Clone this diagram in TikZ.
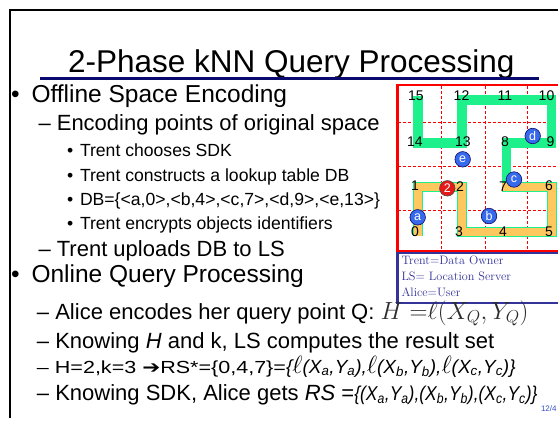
\documentclass[tikz,border=0pt]{standalone}
\usepackage{fontspec}
\newfontfamily\arial{Liberation Sans}
\newfontfamily\djv{DejaVu Sans}

\definecolor{titlenavy}{RGB}{10,10,110}
\definecolor{legendblue}{RGB}{51,51,153}
\definecolor{hilgreen}{RGB}{30,240,140}
\definecolor{hilorange}{RGB}{255,200,95}
\definecolor{objblue}{RGB}{55,105,235}
\definecolor{qred}{RGB}{230,25,25}
\definecolor{mathgray}{RGB}{45,45,45}
\definecolor{pageblue}{RGB}{50,80,200}

% X_s,Y_s written in italic sans
\newcommand\pairXY[1]{X\textsubscript{#1},Y\textsubscript{#1}}
\newcommand\ellof[1]{{\fontsize{23}{23}\selectfont$\ell$}(\pairXY{#1})}

\tikzset{
  txt/.style={anchor=base west, inner sep=0pt, outer sep=0pt},
  titletext/.style={txt, font=\arial\fontsize{31.5}{36}\selectfont},
  lvlone/.style={txt, font=\arial\fontsize{24.5}{28}\selectfont},
  lvltwo/.style={txt, font=\arial\fontsize{22}{25}\selectfont},
  lvlthree/.style={txt, font=\arial\fontsize{17.6}{20}\selectfont},
  lvlsmall/.style={txt, font=\arial\fontsize{17.5}{21}\selectfont},
  lvlsmaller/.style={txt, font=\arial\fontsize{19}{21}\selectfont},
  tuple/.style={txt, font=\arial\fontsize{20}{22}\selectfont},
  cellnum/.style={inner sep=0pt, font=\arial\fontsize{14}{14}\selectfont},
  objdot/.style={circle, draw=titlenavy, line width=0.6pt, fill=objblue,
    minimum size=15.5pt, inner sep=0pt, text=white, font=\arial\fontsize{12.5}{12.5}\selectfont},
  querydot/.style={objdot, fill=qred, draw=black!70},
  gridline/.style={red, line width=0.7pt, dash pattern=on 3pt off 2pt},
  legendtext/.style={txt, text=legendblue, font=\fontsize{12.2}{14}\selectfont},
}

\begin{document}
\begin{tikzpicture}[x=1pt,y=-1pt]
\useasboundingbox (0,0) rectangle (558,424);
\clip (0,0) rectangle (558,424);

% slide frame
\draw[line width=2pt] (10,418) -- (10,10) -- (560,10);

% title
\node[titletext] (title) at (68,72) {2-Phase kNN Query Processing};
\draw[titlenavy, line width=3pt] (40,78) -- (539,78);

% space-filling curve panel
\draw[gridline] (441,86) -- (441,250);
\draw[gridline] (485,86) -- (485,250);
\draw[gridline] (527,86) -- (527,250);
\draw[gridline] (398,122) -- (558,122);
\draw[gridline] (398,166) -- (558,166);
\draw[gridline] (398,210) -- (558,210);

\coordinate (p0) at (418,236);
\coordinate (p1) at (418,187);
\coordinate (p2) at (462,187);
\coordinate (p3) at (462,232);
\coordinate (p5) at (551.5,232);
\coordinate (p6) at (551.5,187);
\coordinate (p7) at (502,187);
\coordinate (q7) at (506.5,191);
\coordinate (p8) at (506.5,143);
\coordinate (p9) at (551.5,143);
\coordinate (p10) at (551.5,100);
\coordinate (p12) at (462,100);
\coordinate (p13) at (462,143);
\coordinate (p14) at (418,143);
\coordinate (p15) at (418,96);

\draw[hilgreen, line width=9.5pt, miter limit=10]
  (q7) -- (p8) -- (p9) -- (p10) -- (p12) -- (p13) -- (p14) -- (p15);
\draw[hilgreen, line width=10pt]
  (p0) -- (p1) -- (p2) -- (p3) -- (p5) -- (p6) -- (p7);
\draw[hilorange, line width=8pt]
  (p0) -- (p1) -- (p2) -- (p3) -- (p5) -- (p6) -- (p7);

\draw[red, line width=2.5pt] (397.5,85) rectangle (575,251);

% cell numbers
\node[cellnum] (n15) at (416,96) {15};
\node[cellnum] (n12) at (461.5,96) {12};
\node[cellnum] (n11) at (505,96) {11};
\node[cellnum] (n10) at (546.5,96) {10};
\node[cellnum] (n14) at (415,141.5) {14};
\node[cellnum] (n13) at (463,141.5) {13};
\node[cellnum] (n8) at (505,141.5) {8};
\node[cellnum] (n9) at (550.5,141.5) {9};
\node[cellnum] (n1) at (415,186) {1};
\node[cellnum] (n2) at (460,186.5) {2};
\node[cellnum] (n7) at (503,186.5) {7};
\node[cellnum] (n6) at (549,186) {6};
\node[cellnum] (n0) at (415,231.5) {0};
\node[cellnum] (n3) at (459,231.5) {3};
\node[cellnum] (n4) at (503,232) {4};
\node[cellnum] (n5) at (549,231.5) {5};

% objects and query point
\node[objdot] (a) at (417.7,217.3) {a};
\node[objdot] (b) at (489,216) {b};
\node[objdot] (c) at (514,179.5) {c};
\node[objdot] (d) at (532.7,136) {d};
\node[objdot] (e) at (462.7,159.3) {e};
\node[querydot] (q) at (447.3,188.3) {2};

% legend
\draw[legendblue, line width=2.5pt] (397.5,253) rectangle (575,303);
\node[legendtext] (lg1) at (401.5,264.5) {Trent=Data Owner};
\node[legendtext] (lg2) at (401.5,280.5) {LS= Location Server};
\node[legendtext] (lg3) at (401.5,296.5) {Alice=User};

% bullet text
\node[lvlone] (bu1) at (11,102.5) {•};
\node[lvlone] (t1) at (31.5,102.5) {Offline Space Encoding};
\node[lvltwo] (t2) at (38.5,130) {– Encoding points of original space};
\node[lvlthree] (bu3a) at (67,156) {•};
\node[lvlthree] (t3a) at (80,156) {Trent chooses SDK};
\node[lvlthree] (bu3b) at (67,181) {•};
\node[lvlthree] (t3b) at (80,181) {Trent constructs a lookup table DB};
\node[lvlthree] (bu3c) at (67,205) {•};
\node[lvlthree] (t3c) at (80,205) {DB=\{<a,0>,<b,4>,<c,7>,<d,9>,<e,13>\}};
\node[lvlthree] (bu3d) at (67,229.5) {•};
\node[lvlthree] (t3d) at (80,229.5) {Trent encrypts objects identifiers};
\node[lvltwo] (t4) at (38.5,256) {– Trent uploads DB to LS};
\node[lvlone] (bu2) at (11,282.5) {•};
\node[lvlone] (t5) at (31.5,282.5) {Online Query Processing};
\node[lvltwo] (t6) at (37,319) {– Alice encodes her query point Q: {\color{mathgray}\fontsize{23.8}{25}\selectfont$H\;{=}\ell(X_Q,Y_Q)$}};
\node[lvltwo] (t7) at (37,348) {– Knowing \textit{H} and k, LS computes the result set};
\node[lvlsmall] (t8a) at (37,373) {\scalebox{1.23}[1]{– H=2,k=3 {\djv ➔}RS*=\{0,4,7\}=}};
\node[lvlsmaller] (t8b) at (t8a.base east) {\textit{\{\ellof{a},\ellof{b},\ellof{c}\}}};
\node[lvltwo] (t9a) at (37,400) {– Knowing SDK, Alice gets \textit{RS} =};
\node[tuple] (t9b) at (t9a.base east) {\scalebox{0.875}[1]{\textit{\{(\pairXY{a}),(\pairXY{b}),(\pairXY{c})\}}}};
\node[txt, text=pageblue, font=\arial\fontsize{8}{8}\selectfont] (pg) at (541,411) {12/4};
\end{tikzpicture}
\end{document}
